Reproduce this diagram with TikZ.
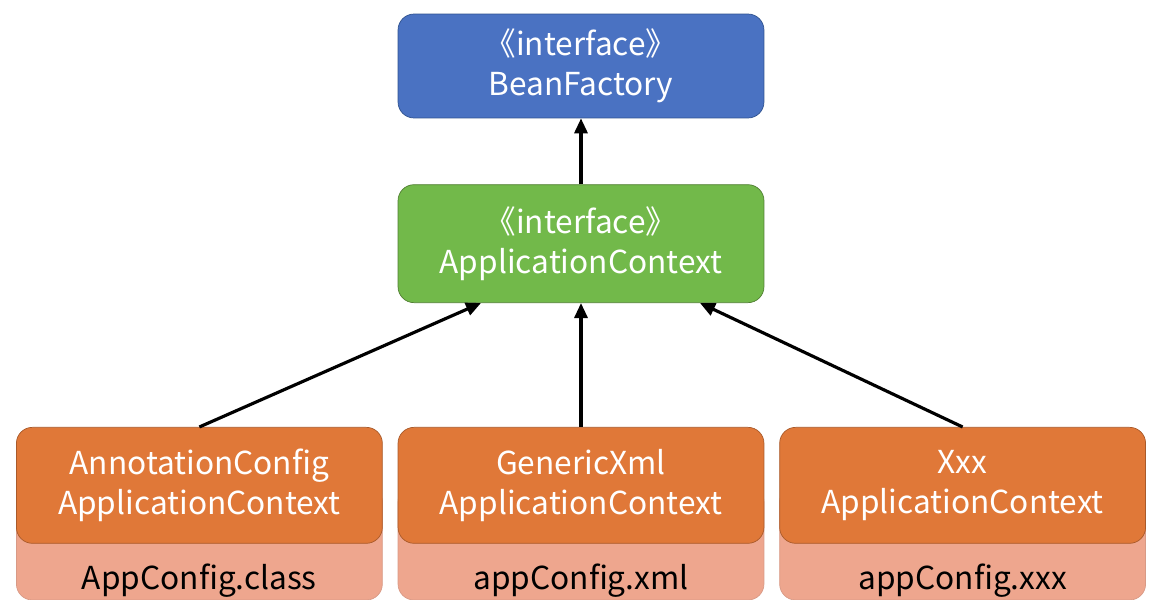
\documentclass[tikz,border=0pt]{standalone}
\usepackage{fontspec}
\setmainfont{Noto Sans CJK KR}
\usetikzlibrary{arrows.meta, positioning, calc, backgrounds}
\definecolor{bfblue}{HTML}{4A72C2}
\definecolor{bfedge}{HTML}{2F528F}
\definecolor{ctxgreen}{HTML}{72B94A}
\definecolor{ctxedge}{HTML}{507E32}
\definecolor{implorange}{HTML}{E07838}
\definecolor{impledge}{HTML}{A95A2A}
\definecolor{cfgpink}{HTML}{EEA68E}
\definecolor{cfgedge}{HTML}{D89A86}

\begin{document}
\begin{tikzpicture}[
    x=0.02cm, y=-0.02cm,
    >={Triangle[length=0.3cm, width=0.26cm]},
    box/.style={rectangle, rounded corners=0.32cm, thin, minimum width=7.32cm, align=center, inner sep=0pt, font=\fontsize{18}{23}\selectfont},
    ifacebox/.style={box, text=white},
    implbox/.style={box, fill=implorange, draw=impledge, text=white, minimum height=2.32cm},
    cfgbox/.style={box, fill=cfgpink, draw=cfgedge, text=black, text height=2.06cm, text depth=0.22cm},
    arrow/.style={->, line width=1.8pt}
  ]
    \useasboundingbox (0,0) rectangle (1154,599);
    \clip (0,0) rectangle (1154,599);
    \node[ifacebox, fill=bfblue, draw=bfedge, minimum height=2.08cm] (bf) at (581,66) {《interface》\\BeanFactory};
    \node[ifacebox, fill=ctxgreen, draw=ctxedge, minimum height=2.36cm, below=1.32cm of bf] (ctx) {《interface》\\ApplicationContext};
    \node[implbox, below=2.48cm of ctx] (gxml) {GenericXml\\ApplicationContext};
    \node[implbox, left=0.3cm of gxml] (anno) {AnnotationConfig\\ApplicationContext};
    \node[implbox, right=0.3cm of gxml] (xxx) {Xxx\\ApplicationContext};
    \begin{scope}[on background layer]
      \node[cfgbox, below=-1.16cm of anno] (annocfg) {AppConfig.class};
      \node[cfgbox, below=-1.16cm of gxml] (gxmlcfg) {appConfig.xml};
      \node[cfgbox, below=-1.16cm of xxx] (xxxcfg) {appConfig.xxx};
    \end{scope}
    \draw[arrow] (ctx) -- (bf);
    \draw[arrow] (gxml) -- (ctx);
    \draw[arrow] (anno.north) -- ($(ctx.south)+(-100,0)$);
    \draw[arrow] (xxx.north) -- ($(ctx.south)+(119,0)$);
  \end{tikzpicture}
\end{document}
